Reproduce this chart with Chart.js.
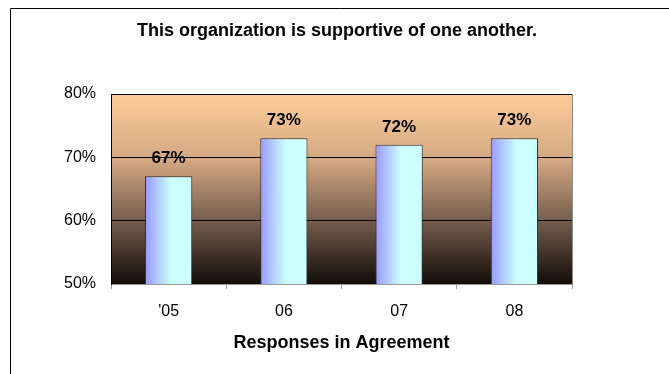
<!DOCTYPE html>
<html>
<head>
<meta charset="utf-8">
<script src="https://cdn.jsdelivr.net/npm/chart.js@4/dist/chart.umd.min.js"></script>
<style>
    body { margin: 0; background: #fff; }
    canvas { display: block; }
</style>
</head>
<body>
<canvas id="myChart" width="669" height="374"></canvas>
<script>
const categories = ["'05", '06', '07', '08'];
const agreement = [67, 73, 72, 73];
const yTicks = [50, 60, 70, 80];

const chartTitle = 'This organization is supportive of one another.';
const axisTitle = 'Responses in Agreement';
const barShare = 0.41;

const fontFamily = 'Arial, "Liberation Sans", sans-serif';
Chart.defaults.font.family = fontFamily;
Chart.defaults.color = '#000';

// left + top frame around the whole picture, the gradient behind the plot and the title
const backdrop = {
    id: 'backdrop',
    beforeDraw(chart) {
        const ctx = chart.ctx;
        const area = chart.chartArea;
        ctx.save();
        ctx.strokeStyle = '#000';
        ctx.lineWidth = 1;
        ctx.beginPath();
        ctx.moveTo(10.5, chart.height);
        ctx.lineTo(10.5, 8.5);
        ctx.lineTo(chart.width, 8.5);
        ctx.stroke();

        const g = ctx.createLinearGradient(0, area.top, 0, area.bottom);
        g.addColorStop(0, '#fdcc99');
        g.addColorStop(0.35, '#d3a882');
        g.addColorStop(0.65, '#7a6150');
        g.addColorStop(1, '#120c08');
        ctx.fillStyle = g;
        ctx.fillRect(area.left, area.top, area.right - area.left, area.bottom - area.top);

        // title sits a little left of the plot centre in the original
        ctx.font = 'bold 18px ' + fontFamily;
        ctx.fillStyle = '#000';
        ctx.textAlign = 'center';
        ctx.textBaseline = 'middle';
        ctx.fillText(chartTitle, 337, 31);
        ctx.restore();
    },
    afterDraw(chart) {
        const ctx = chart.ctx;
        const area = chart.chartArea;
        ctx.save();
        ctx.strokeStyle = '#888';
        ctx.lineWidth = 1;
        ctx.beginPath();
        ctx.moveTo(Math.round(area.right) + 0.5, area.top);
        ctx.lineTo(Math.round(area.right) + 0.5, area.bottom);
        ctx.stroke();
        ctx.restore();
    }
};

const valueLabels = {
    id: 'valueLabels',
    afterDatasetsDraw(chart) {
        const ctx = chart.ctx;
        const meta = chart.getDatasetMeta(0);
        ctx.save();
        ctx.font = 'bold 17px ' + fontFamily;
        ctx.fillStyle = '#000';
        ctx.textAlign = 'center';
        ctx.textBaseline = 'alphabetic';
        meta.data.forEach((bar, i) => {
            ctx.fillText(agreement[i] + '%', bar.x, bar.y - 13);
        });
        ctx.restore();
    }
};

function barFill(context) {
    const chart = context.chart;
    const x = chart.scales.x;
    if (!chart.chartArea || !x) {
        return '#9999ff';
    }
    const cx = x.getPixelForValue(context.dataIndex);
    const half = x.width / categories.length * barShare / 2;
    const g = chart.ctx.createLinearGradient(cx - half, 0, cx + half, 0);
    g.addColorStop(0, '#9999ff');
    g.addColorStop(0.55, '#ccffff');
    g.addColorStop(1, '#ccffff');
    return g;
}

new Chart(document.getElementById('myChart'), {
    type: 'bar',
    data: {
        labels: categories,
        datasets: [{
            data: agreement,
            backgroundColor: barFill,
            borderColor: '#333',
            borderWidth: 1,
            categoryPercentage: 1,
            barPercentage: barShare
        }]
    },
    options: {
        responsive: false,
        animation: false,
        devicePixelRatio: 1,
        layout: {
            padding: {left: 0, right: 97, top: 94, bottom: 0}
        },
        plugins: {
            legend: {display: false},
            tooltip: {enabled: false},
            title: {display: false}
        },
        scales: {
            x: {
                grid: {
                    offset: true,
                    drawOnChartArea: false,
                    drawTicks: true,
                    tickLength: 5,
                    color: '#999'
                },
                border: {color: '#999'},
                ticks: {
                    font: {size: 16},
                    padding: 13
                },
                title: {
                    display: true,
                    text: axisTitle,
                    font: {size: 18, weight: 'bold'},
                    padding: {top: 0, bottom: 20}
                },
                afterFit(scale) {
                    scale.height = 90;
                }
            },
            y: {
                min: yTicks[0],
                max: yTicks[yTicks.length - 1],
                grid: {
                    color: '#000',
                    drawTicks: false
                },
                border: {color: '#000'},
                ticks: {
                    stepSize: 10,
                    font: {size: 16},
                    padding: 15,
                    callback: (v) => v + '%'
                },
                afterFit(scale) {
                    scale.width = 111;
                }
            }
        }
    },
    plugins: [backdrop, valueLabels]
});
</script>
</body>
</html>
